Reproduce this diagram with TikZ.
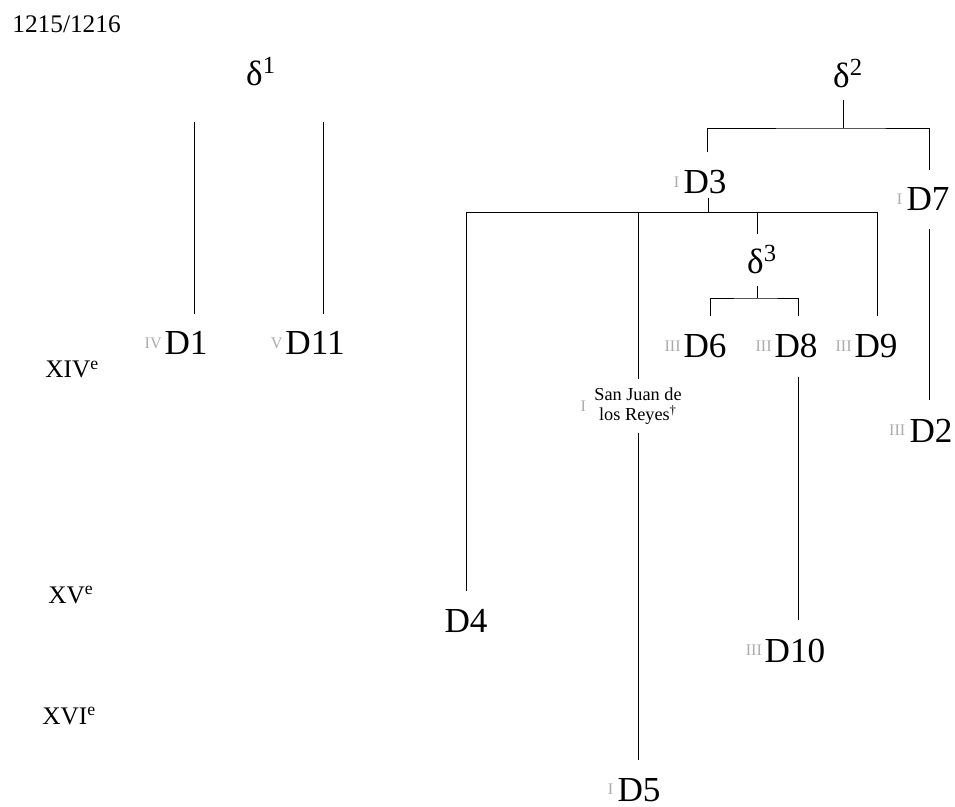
\documentclass[tikz,border=0pt]{standalone}
\usepackage{fontspec}
\setmainfont{Liberation Serif}
\usepackage{xcolor}

\begin{document}
\begin{tikzpicture}[
    x=0.025cm, y=-0.025cm,
    line width=0.6pt,
    pre/.style={font=\fontsize{11.5}{11.5}\selectfont, text=black!33, inner sep=0pt, outer sep=0pt},
    wit/.style={anchor=base, inner sep=0pt, outer xsep=0pt, outer ysep=13pt, font=\fontsize{25}{25}\selectfont},
    hyp/.style={anchor=base, inner sep=0pt, outer xsep=0pt, outer ysep=8pt, font=\fontsize{25}{25}\selectfont},
    note/.style={align=center, inner sep=0pt, outer xsep=0pt, outer ysep=6pt, font=\fontsize{13}{14.5}\selectfont},
    cent/.style={anchor=base west, inner sep=0pt, font=\fontsize{18}{18}\selectfont}
]
\useasboundingbox (0,0) rectangle (955,807);

% Dates
\node[cent] (date) at (12,33) {1215/1216};
\node[cent] (c14) at (45,378) {XIV\textsuperscript{e}};
\node[cent] (c15) at (48,603) {XV\textsuperscript{e}};
\node[cent] (c16) at (42,724) {XVI\textsuperscript{e}};

% Hyparchetypes
\node[hyp] (delta1) at (261,86) {δ\textsuperscript{1}};
\node[hyp] (delta2) at (848,88) {δ\textsuperscript{2}};
\node[hyp] (delta3) at (762,274) {δ\textsuperscript{3}};

% Witnesses
\node[wit, label={[pre, label distance=2pt]left:IV}] (d1) at (186,355) {D1};
\node[wit, label={[pre, label distance=2pt]left:V}] (d11) at (315,355) {D11};
\node[wit, label={[pre, label distance=3pt]left:I}] (d3) at (705,194) {D3};
\node[wit, label={[pre, label distance=3pt]left:I}] (d7) at (928,211) {D7};
\node[wit, label={[pre, label distance=2pt]left:III}] (d6) at (705,358) {D6};
\node[wit, label={[pre, label distance=2pt]left:III}] (d8) at (796,358) {D8};
\node[wit, label={[pre, label distance=2pt]left:III}] (d9) at (876,358) {D9};
\node[wit, label={[pre, label distance=3pt]left:III}] (d2) at (931,442) {D2};
\node[wit] (d4) at (466,632) {D4};
\node[wit, label={[pre, label distance=2pt]left:III}] (d10) at (795,662) {D10};
\node[wit, label={[pre, label distance=3pt]left:I}] (d5) at (639,801) {D5};
\node[note, label={[pre, label distance=6pt]left:I}] (sj) at (638,406) {San Juan de\\los Reyes\textsuperscript{†}};

% delta1
\coordinate (top1) at (0,122);
\draw ([xshift=5.7pt]d1.north) -- ([xshift=5.7pt]d1.north |- top1);
\draw ([xshift=5.7pt]d11.north) -- ([xshift=5.7pt]d11.north |- top1);

% delta2
\coordinate (b2) at (843,128);
\draw (delta2.south -| b2) -- (b2);
\draw ([xshift=2pt]d3.north) |- (b2) -| ([xshift=1pt]d7.north);

% D3
\coordinate (c3) at (708,212);
\draw (c3) -- ++(0,-14);
\draw (d4.north |- c3) -- ([xshift=1pt]d9.north |- c3);
\draw (d4.north |- c3) -- (d4.north);
\draw (sj.north |- c3) -- (sj.north);
\draw ([xshift=1pt]d9.north |- c3) -- ([xshift=1pt]d9.north);

% delta3
\coordinate (e3) at (757,212);
\coordinate (f3) at (757,298);
\draw (e3) -- (e3 |- delta3.north);
\draw (e3 |- delta3.south) -- (f3);
\draw ([xshift=4pt]d6.north) |- (f3) -| ([xshift=2pt]d8.north);

% later copies
\draw (sj.south) -- (sj.south |- d5.north);
\draw ([xshift=2pt]d8.south) -- ([xshift=2pt]d8.south |- d10.north);
\draw ([xshift=1pt]d7.south) -- ([xshift=1pt]d7.south |- d2.north);
\end{tikzpicture}
\end{document}
